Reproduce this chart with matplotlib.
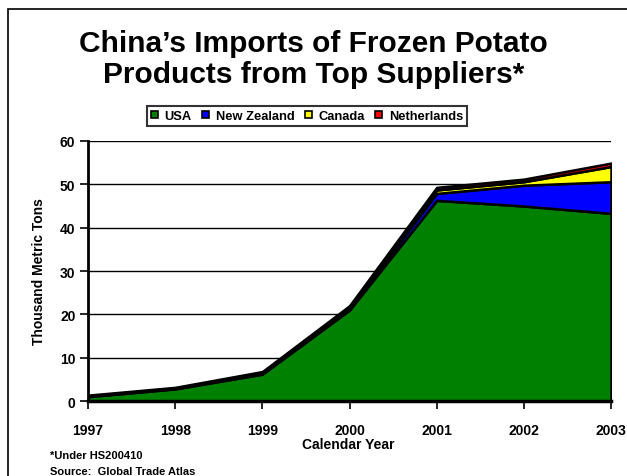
import matplotlib.pyplot as plt
import matplotlib.patches as mpatches

years = [1997, 1998, 1999, 2000, 2001, 2002, 2003]
usa = [1.0, 2.8, 6.2, 21.0, 46.3, 45.0, 43.3]
new_zealand = [0.1, 0.1, 0.2, 0.4, 1.6, 4.8, 7.3]
canada = [0.05, 0.05, 0.1, 0.2, 0.8, 0.8, 3.5]
netherlands = [0.2, 0.2, 0.3, 0.4, 0.6, 0.6, 0.8]
series_names = ['USA', 'New Zealand', 'Canada', 'Netherlands']
colors = ['#008000', '#0000FF', '#FFFF00', '#FF0000']

plt.rcParams['font.family'] = ['Liberation Sans', 'DejaVu Sans']
plt.rcParams['font.weight'] = 'bold'

W, H = 627, 477
fig = plt.figure(figsize=(6.27, 4.77), dpi=100)
ax = fig.add_axes([88 / W, 1 - 402 / H, (611 - 88) / W, (402 - 142) / H])

# slide frame
fig.patches.append(mpatches.Rectangle((8 / W, -0.05), 1.1, 1 - 10 / H + 0.05,
                                      transform=fig.transFigure, fill=False,
                                      edgecolor='black', linewidth=1.2))

for y in range(10, 61, 10):
    ax.axhline(y, color='black', linewidth=1.0, zorder=0)

ax.stackplot(years, usa, new_zealand, canada, netherlands,
             colors=colors, edgecolor='black', linewidth=1.8, zorder=2)

ax.set_xlim(1997, 2003)
ax.set_ylim(0, 60)
ax.set_xticks(years)
ax.set_yticks(range(0, 61, 10))
ax.tick_params(axis='both', labelsize=10, width=1.2, length=6, direction='out')
ax.tick_params(axis='x', pad=10)
ax.tick_params(axis='y', pad=3)
for lab in ax.get_xticklabels() + ax.get_yticklabels():
    lab.set_fontweight('bold')
for s in ['top', 'right']:
    ax.spines[s].set_visible(False)
ax.spines['left'].set_linewidth(2)
ax.spines['bottom'].set_linewidth(2.5)
ax.spines['left'].set_zorder(3)
ax.spines['bottom'].set_zorder(3)

ax.set_ylabel('Thousand Metric Tons', fontsize=10, fontweight='bold', labelpad=10)
fig.text(348 / W, 1 - 449 / H, 'Calendar Year', ha='center', va='baseline',
         fontsize=10, fontweight='bold')

fig.text(0.5, 1 - 52 / H, 'China\u2019s Imports of Frozen Potato',
         ha='center', va='baseline', fontsize=21.5, fontweight='bold')
fig.text(0.5, 1 - 83 / H, 'Products from Top Suppliers*',
         ha='center', va='baseline', fontsize=21.5, fontweight='bold')

handles = [mpatches.Patch(facecolor=c, edgecolor='black', linewidth=1.2) for c in colors]
leg = fig.legend(handles, series_names, loc='center', bbox_to_anchor=(307 / W, 1 - 117 / H),
                 ncol=4, fontsize=9.3, frameon=True, fancybox=False,
                 handlelength=0.55, handleheight=0.55, handletextpad=0.5,
                 columnspacing=0.8, borderpad=0.3, edgecolor='black')
leg.get_frame().set_linewidth(1.5)
for t in leg.get_texts():
    t.set_fontweight('bold')

fig.text(50 / W, 1 - 459 / H, '*Under HS200410', fontsize=8, fontweight='bold', va='baseline')
fig.text(50 / W, 1 - 475 / H, 'Source:  Global Trade Atlas', fontsize=8, fontweight='bold', va='baseline')

fig.savefig('out.png', dpi=100)
